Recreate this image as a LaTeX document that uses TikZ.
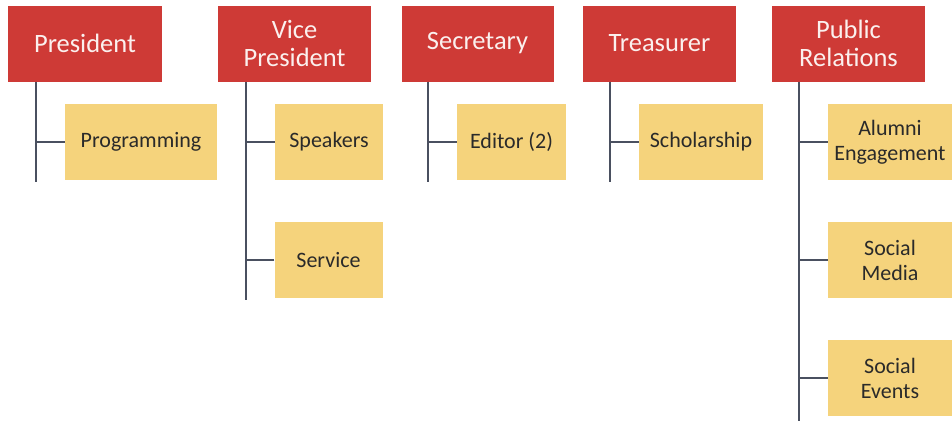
\documentclass[tikz,border=0pt]{standalone}
\usepackage{fontspec}
\setmainfont{Carlito}
\definecolor{boxred}{HTML}{CE3A36}
\definecolor{boxgold}{HTML}{F5D37C}
\definecolor{linegray}{HTML}{4A5060}
\definecolor{redtext}{HTML}{FBF0EE}
\definecolor{darktext}{HTML}{2A2A2A}
\begin{document}
\begin{tikzpicture}[x=1pt,y=-1pt,
  role/.style={fill=boxred,draw=none,inner sep=0pt,minimum height=76pt,
    text=redtext,align=center,font=\fontsize{26.5}{28}\selectfont},
  duty/.style={fill=boxgold,draw=none,inner sep=0pt,minimum height=76pt,
    text=darktext,align=center,font=\fontsize{22}{25}\selectfont},
  link/.style={draw=linegray,line width=1.5pt}]
\useasboundingbox (0,0) rectangle (952,421);
% role boxes
\node[role,minimum width=154pt] (pres) at (85,43.5) {President};
\node[role,minimum width=153pt] (vp) at (294.5,43.5) {Vice\\President};
\node[role,minimum width=152pt] (sec) at (477.5,43.5) {Secretary};
\node[role,minimum width=153pt] (tre) at (659.5,43.5) {Treasurer};
\node[role,minimum width=153pt] (pr) at (848.5,43.5) {Public\\Relations};
% duty boxes
\node[duty,minimum width=152pt] (prog) at (141,142) {Programming};
\node[duty,minimum width=108pt] (spk) at (329,142) {Speakers};
\node[duty,minimum width=108pt] (srv) at (328.5,260) {Service};
\node[duty,minimum width=109pt] (edt) at (511.5,142) {Editor (2)};
\node[duty,minimum width=124pt] (sch) at (701,142) {Scholarship};
\node[duty,minimum width=124pt] (alu) at (890,142) {Alumni\\Engagement};
\node[duty,minimum width=124pt] (smd) at (890,260) {Social\\Media};
\node[duty,minimum width=124pt] (sev) at (890,378) {Social\\Events};
% trunk ends
\coordinate (t1) at (36,182);
\coordinate (t2) at (246,300);
\coordinate (t3) at (428,182);
\coordinate (t4) at (610,182);
\coordinate (t5) at (799,421);
% trunks
\draw[link] (t1 |- pres.south) -- (t1);
\draw[link] (t2 |- vp.south) -- (t2);
\draw[link] (t3 |- sec.south) -- (t3);
\draw[link] (t4 |- tre.south) -- (t4);
\draw[link] (t5 |- pr.south) -- (t5);
% branches
\draw[link] (prog.west) -- (prog.west -| t1);
\draw[link] (spk.west) -- (spk.west -| t2);
\draw[link] (srv.west) -- (srv.west -| t2);
\draw[link] (edt.west) -- (edt.west -| t3);
\draw[link] (sch.west) -- (sch.west -| t4);
\draw[link] (alu.west) -- (alu.west -| t5);
\draw[link] (smd.west) -- (smd.west -| t5);
\draw[link] (sev.west) -- (sev.west -| t5);
\end{tikzpicture}
\end{document}
